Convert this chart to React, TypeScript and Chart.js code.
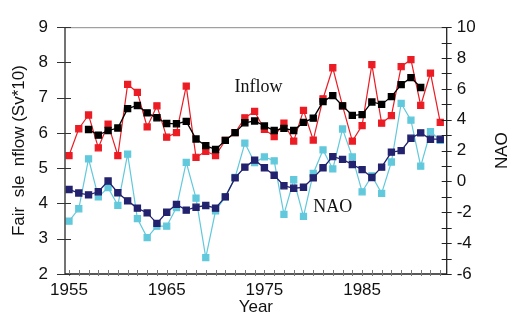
import React, { useEffect, useRef } from 'react';
import { Chart, registerables } from 'chart.js';

Chart.register(...registerables);

const years = [
  1955, 1956, 1957, 1958, 1959, 1960, 1961, 1962, 1963, 1964,
  1965, 1966, 1967, 1968, 1969, 1970, 1971, 1972, 1973, 1974,
  1975, 1976, 1977, 1978, 1979, 1980, 1981, 1982, 1983, 1984,
  1985, 1986, 1987, 1988, 1989, 1990, 1991, 1992, 1993,
];

const inflow = [
  5.36, 6.12, 6.51, 5.58, 6.25, 5.36, 7.38, 7.15, 6.17, 6.77,
  5.88, 6.01, 7.33, 5.31, 5.48, 5.36, 5.79, 6.01, 6.43, 6.61,
  6.10, 5.90, 6.28, 5.77, 6.64, 5.80, 6.97, 7.85, 6.77, 5.77,
  6.21, 7.94, 6.28, 6.49, 7.88, 8.08, 6.78, 7.70, 6.30,
];

const inflowSmooth = [
  null, null, 6.10, 5.94, 6.07, 6.14, 6.69, 6.78, 6.57, 6.43,
  6.27, 6.26, 6.33, 5.83, 5.64, 5.53, 5.79, 6.01, 6.29, 6.34,
  6.20, 6.07, 6.13, 6.07, 6.30, 6.42, 6.89, 7.06, 6.77, 6.50,
  6.52, 6.88, 6.81, 7.03, 7.37, 7.57, 7.29, null, null,
];

const nao = [
  -2.57, -1.77, 1.47, -1.0, -0.4, -1.55, 1.77, -2.41, -3.64, -2.9,
  -2.9, -1.69, 1.24, -1.08, -4.94, -1.9, -1.0, 0.26, 2.49, 1.22,
  1.59, 1.34, -2.14, 0.11, -2.27, 0.52, 2.04, 0.81, 3.4, 1.59,
  -0.67, 0.36, -0.77, 1.26, 5.06, 3.97, 0.99, 3.23, 2.66,
];

const naoSmooth = [
  -0.52, -0.75, -0.87, -0.67, 0.03, -0.73, -1.26, -1.73, -2.04, -2.72,
  -2.0, -1.49, -1.86, -1.67, -1.56, -1.73, -1.0, 0.23, 0.93, 1.38,
  0.89, 0.40, -0.28, -0.44, -0.38, 0.23, 0.89, 1.61, 1.43, 1.10,
  0.77, 0.26, 0.93, 1.90, 2.0, 2.8, 3.15, 2.74, 2.74,
];

const xLabelYears = [1955, 1965, 1975, 1985];
const leftTitle = 'Fair  sle  nflow (Sv*10)';
const rightTitle = 'NAO';
const xTitle = 'Year';
const annotations = [
  { text: 'Inflow', year: 1974.4, value: 7.3 },
  { text: 'NAO', year: 1982.0, value: 3.9 },
];

const SANS = "'Liberation Sans', Arial, sans-serif";
const SERIF = "'Liberation Serif', 'Times New Roman', serif";

const toPoints = (vals: (number | null)[]) =>
  years.map((yr, i) => ({ x: yr, y: vals[i] as any }));

const decorPlugin = {
  id: 'decor',
  afterDraw(chart: any) {
    const { ctx, chartArea, scales } = chart;
    const { left, right, top, bottom } = chartArea;
    ctx.save();
    // frame
    ctx.lineCap = 'butt';
    ctx.strokeStyle = '#8a8a8a';
    ctx.lineWidth = 1;
    ctx.beginPath();
    ctx.moveTo(left, top + 0.5);
    ctx.lineTo(right, top + 0.5);
    ctx.stroke();
    ctx.strokeStyle = '#444';
    ctx.lineWidth = 1.5;
    ctx.beginPath();
    ctx.moveTo(left, top);
    ctx.lineTo(left, bottom);
    ctx.stroke();
    ctx.strokeStyle = '#222';
    ctx.lineWidth = 1.3;
    ctx.beginPath();
    ctx.moveTo(right, top);
    ctx.lineTo(right, bottom);
    ctx.moveTo(left, bottom);
    ctx.lineTo(right, bottom);
    ctx.stroke();

    // x ticks
    ctx.strokeStyle = '#777';
    ctx.lineWidth = 1;
    ctx.beginPath();
    scales.x.ticks.forEach((t: any) => {
      const px = Math.round(scales.x.getPixelForValue(t.value)) + 0.5;
      ctx.moveTo(px, bottom - 4);
      ctx.lineTo(px, bottom + 2);
    });
    ctx.stroke();

    // left ticks
    ctx.strokeStyle = '#333';
    ctx.beginPath();
    scales.y.ticks.forEach((t: any) => {
      const py = Math.round(scales.y.getPixelForValue(t.value)) + 0.5;
      ctx.moveTo(left - 8, py);
      ctx.lineTo(left + 6, py);
    });
    ctx.stroke();

    // right ticks
    ctx.strokeStyle = '#222';
    ctx.beginPath();
    scales.y2.ticks.forEach((t: any) => {
      const py = Math.round(scales.y2.getPixelForValue(t.value)) + 0.5;
      ctx.moveTo(right - 5, py);
      ctx.lineTo(right + 5, py);
    });
    ctx.stroke();

    // annotations
    ctx.fillStyle = '#111';
    ctx.font = `18px ${SERIF}`;
    ctx.textAlign = 'center';
    ctx.textBaseline = 'middle';
    annotations.forEach((a) => {
      ctx.fillText(a.text, scales.x.getPixelForValue(a.year), scales.y.getPixelForValue(a.value));
    });

    // right axis title (bottom-to-top)
    ctx.font = `17px ${SANS}`;
    ctx.translate(chart.width - 6, (top + bottom) / 2);
    ctx.rotate(-Math.PI / 2);
    ctx.fillText(rightTitle, 0, 0);
    ctx.restore();
  },
};

export default function App() {
  const ref = useRef<HTMLCanvasElement>(null);
  useEffect(() => {
    document.body.style.margin = '0';
    const canvas = ref.current!;
    const tickFont = { family: SANS, size: 17 };
    const chart = new Chart(canvas, {
      type: 'line',
      data: {
        datasets: [
          {
            label: 'Inflow (5-yr)',
            data: toPoints(inflowSmooth),
            yAxisID: 'y',
            borderColor: '#000',
            backgroundColor: '#000',
            borderWidth: 1.3,
            pointStyle: 'rect',
            pointRadius: 4.3,
            order: 0,
            spanGaps: false,
          },
          {
            label: 'Inflow',
            data: toPoints(inflow),
            yAxisID: 'y',
            borderColor: '#ec1c24',
            backgroundColor: '#ec1c24',
            borderWidth: 1.2,
            pointStyle: 'rect',
            pointRadius: 4.3,
            order: 1,
          },
          {
            label: 'NAO (5-yr)',
            data: toPoints(naoSmooth),
            yAxisID: 'y2',
            borderColor: '#22226e',
            backgroundColor: '#22226e',
            borderWidth: 1.3,
            pointStyle: 'rect',
            pointRadius: 4.3,
            order: 2,
          },
          {
            label: 'NAO',
            data: toPoints(nao),
            yAxisID: 'y2',
            borderColor: '#62c9dc',
            backgroundColor: '#62c9dc',
            borderWidth: 1.2,
            pointStyle: 'rect',
            pointRadius: 4.3,
            order: 3,
          },
        ],
      },
      options: {
        responsive: false,
        animation: false,
        layout: { padding: { top: 14, left: 0, right: 0, bottom: 0 } },
        plugins: {
          legend: { display: false },
          tooltip: { enabled: false },
        },
        elements: { line: { tension: 0 } },
        scales: {
          x: {
            type: 'linear',
            position: 'bottom',
            min: 1954.59,
            max: 1993.66,
            afterFit: (s: any) => { s.height = 50; },
            grid: { display: false, drawTicks: false },
            border: { display: false },
            ticks: {
              stepSize: 1,
              includeBounds: false,
              autoSkip: false,
              maxRotation: 0,
              minRotation: 0,
              padding: 6,
              color: '#111',
              font: tickFont,
              callback: (v: any) => (xLabelYears.includes(Number(v)) ? String(v) : ''),
            },
            title: {
              display: true,
              text: xTitle,
              color: '#111',
              font: tickFont,
              padding: { top: 0, bottom: 6 },
            },
          },
          y: {
            position: 'left',
            min: 2,
            max: 9,
            afterFit: (s: any) => { s.width = 65; },
            grid: { display: false, drawTicks: false },
            border: { display: false },
            ticks: { stepSize: 1, padding: 17, color: '#111', font: tickFont },
            title: {
              display: true,
              text: leftTitle,
              color: '#111',
              font: tickFont,
              padding: { top: 9, bottom: 0 },
            },
          },
          y2: {
            position: 'right',
            min: -6,
            max: 10,
            afterFit: (s: any) => { s.width = 61.3; },
            grid: { display: false, drawTicks: false },
            border: { display: false },
            ticks: {
              stepSize: 1,
              padding: 10,
              color: '#111',
              font: tickFont,
              autoSkip: false,
              callback: (v: any) => (Number(v) % 2 === 0 ? String(v) : ''),
            },
          },
        },
      },
      plugins: [decorPlugin],
    } as any);
    return () => chart.destroy();
  }, []);
  return (
    <div style={{ position: 'absolute', left: 0, top: 0, width: 508, height: 324 }}>
      <canvas ref={ref} width={508} height={324} style={{ width: 508, height: 324, display: 'block' }} />
    </div>
  );
}
